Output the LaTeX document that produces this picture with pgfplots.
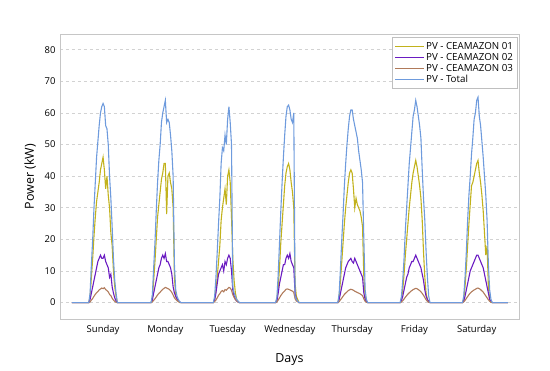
\documentclass[border=0pt]{standalone}
\usepackage{pgfplots}
\usepackage{pgfplotstable}
\pgfplotsset{compat=1.18}
\usepackage{fontspec}
\setmainfont{Open Sans}
\definecolor{cA}{HTML}{C2B21C}
\definecolor{cB}{HTML}{6A1BC2}
\definecolor{cC}{HTML}{B07A5A}
\definecolor{cT}{HTML}{6E9BDD}
\pgfplotstableread{
h p1 p2 p3 tot
0 0 0 0 0
6.5 0 0 0 0
7.0 2 1 0.2 3
7.5 8 3 0.8 12
8.0 14 5 1.3 20
8.5 21 7 2 30
9.0 27 9 2.6 38
9.5 32 11 3.1 46
10.0 35 13 3.5 51
10.5 38 14 4 56
11.0 42 15 4.3 60
11.5 44 14 4.6 62
12.0 46 14 4.4 63
12.5 42 15 4.7 62
13.0 36 13 4.1 56
13.5 40 12 3.8 55
14.0 34 11 3.4 50
14.5 30 8 2.6 40
15.0 22 9 2.2 33
15.5 18 5 1.4 24
16.0 10 3 0.8 14
16.5 5 1.5 0.4 7
17.0 2 0.5 0.1 3
17.5 0 0 0 0
30.5 0 0 0 0
31.0 1.5 0.8 0.2 2.5
31.5 7 3 0.7 11
32.0 13 5 1.2 19
32.5 20 7 1.8 29
33.0 27 9 2.4 38
33.5 31 11 2.9 45
34.0 35 12 3.3 50
34.5 39 14 3.8 57
35.0 41 15 4.2 60
35.5 44 14 4.5 62
36.0 44 15.5 4.8 64
36.5 28 13 4.6 57
37.0 40 13 4.4 58
37.5 41 12 4.2 57
38.0 38 11 3.8 53
38.5 36 9 3.2 48
39.0 30 5 2.4 40
39.5 8 3 1.5 12
40.0 2 2 1 4
40.5 1 1.2 0.6 2
41.0 0.5 0.6 0.3 1
41.5 0 0.2 0.1 0.3
42.0 0 0 0 0
54.5 0 0 0 0
55.0 1 0.8 0.3 2
55.5 4 3 0.8 8
56.0 8 6 1.5 16
56.5 13 9 2.3 25
57.0 18 10 2.8 33
57.5 26 11 3.5 44
58.0 30 12 3.8 49
58.5 33 10 3.4 48
59.0 36 13 4.1 53
59.5 31 12 3.9 50
60.0 40 14 4.4 58
60.5 42 15 4.8 62
61.0 38 14 4.6 57
61.5 27 10 3.9 50
62.0 14 4 2.5 5
62.5 7 2 1.6 3
63.0 3 1 1 2
63.5 1 0.5 0.5 1
64.0 0.3 0.2 0.2 0.5
64.5 0 0 0 0
78.5 0 0 0 0
79.0 1 0.5 0.2 1.7
79.5 5 3 0.8 9
80.0 11 6 1.5 19
80.5 19 8 2.2 29
81.0 25 10 2.8 38
81.5 31 12 3.3 46
82.0 37 12 3.7 53
82.5 41 14 4.2 59
83.0 43 15 4.3 62
83.5 44 14 4.2 62.5
84.0 42 15.5 4 61
84.5 38 13 3.8 58
85.0 35 12 3.6 57
85.5 30 11 3.2 60
86.0 6 3 1.2 2
86.5 2 1 0.5 1
87.0 1 0.4 0.3 0.5
87.5 0 0 0 0
102.5 0 0 0 0
103.0 2 1 0.3 3
103.5 7 3 0.9 11
104.0 13 5 1.4 20
104.5 19 7 2 28
105.0 25 9 2.6 37
105.5 30 11 3 44
106.0 34 12 3.4 50
106.5 38 13 3.8 55
107.0 41 13.5 4 59
107.5 42 14 4.2 61
108.0 41 13 4.1 61
108.5 36 12.5 3.9 58
109.0 30 14 3.6 56
109.5 33 13 3.4 54
110.0 31 12 3.2 52
110.5 30 11 3 48
111.0 29 10 2.8 45
111.5 27 9 2.5 42
112.0 24 8 2.2 38
112.5 8 3 1.2 20
113.0 2 1 0.4 4
113.5 0.5 0.3 0.1 1
114.0 0 0 0 0
126.5 0 0 0 0
127.0 1 0.6 0.2 2
127.5 4 2 0.6 7
128.0 9 4 1.1 14
128.5 15 6 1.7 23
129.0 20 8 2.2 30
129.5 25 9 2.7 37
130.0 30 11 3.1 44
130.5 34 12 3.5 49
131.0 38 13 3.8 54
131.5 41 13 4.1 59
132.0 43 14 4.3 61
132.5 45 15 4.5 64
133.0 43 14 4.4 62
133.5 40 13 4.1 59
134.0 37 12 3.8 56
134.5 33 11 3.4 52
135.0 26 9 2.9 42
135.5 16 7 2.3 33
136.0 8 4 1.6 26
136.5 3 2 0.9 16
137.0 1 1 0.4 8
137.5 0.3 0.3 0.1 2
138.0 0 0 0 0
150.5 0 0 0 0
151.0 1 0.5 0.2 2
151.5 5 2 0.7 8
152.0 11 4 1.3 16
152.5 18 6 1.9 26
153.0 25 8 2.5 34
153.5 31 10 3 40
154.0 37 11 3.4 47
154.5 38 12 3.7 52
155.0 40 13 4 58
155.5 42 14 4.2 60
156.0 44 15 4.5 64
156.5 45 15 4.6 65
157.0 41 14 4.4 59
157.5 38 13 4.1 56
158.0 34 12 3.7 51
158.5 29 11 3.3 46
159.0 22 9 2.7 40
159.5 15 7 2.1 34
160.0 18 5 1.5 26
160.5 5 3 0.9 12
161.0 1 1 0.4 4
161.5 0.2 0.3 0.1 1
162.0 0 0 0 0
168.0 0 0 0 0
}\pvdata
\begin{document}
\begin{tikzpicture}
\begin{axis}[
  scale only axis,
  width=459bp, height=285bp,
  xmin=-4.6, xmax=172.3,
  ymin=-5.2, ymax=85,
  xtick={12,36,60,84,108,132,156},
  xticklabels={Sunday,Monday,Tuesday,Wednesday,Thursday,Friday,Saturday},
  ytick={0,10,...,80},
  major tick length=0pt,
  axis line style={gray!45},
  ymajorgrids,
  grid style={dashed, gray!35, line width=0.6pt},
  tick label style={font=\fontsize{9.5}{11}\selectfont, text=black},
  /pgf/number format/assume math mode=true,
  xticklabel style={yshift=-3bp},
  yticklabel style={xshift=-1bp},
  xlabel={Days}, ylabel={Power (kW)},
  label style={font=\fontsize{12.5}{14}\selectfont},
  xlabel style={yshift=-12bp},
  ylabel style={yshift=2bp},
  legend cell align=left,
  legend style={at={(0.997,0.988)}, anchor=north east, draw=gray!50,
    font=\fontsize{9.8}{11}\selectfont, row sep=-1.5bp, inner sep=2.5bp},
  legend image code/.code={\draw[#1, line width=1.1pt] (0cm,0cm) -- (1.0cm,0cm);},
  every axis plot/.append style={line width=1.1pt},
]
\addplot[cA] table[x=h,y=p1]{\pvdata};
\addplot[cB] table[x=h,y=p2]{\pvdata};
\addplot[cC] table[x=h,y=p3]{\pvdata};
\addplot[cT] table[x=h,y=tot]{\pvdata};
\legend{PV - CEAMAZON 01, PV - CEAMAZON 02, PV - CEAMAZON 03, PV - Total}
\end{axis}
\path ([xshift=-60bp,yshift=-52bp]current axis.south west) rectangle ([xshift=31bp,yshift=34bp]current axis.north east);
\end{tikzpicture}
\end{document}
